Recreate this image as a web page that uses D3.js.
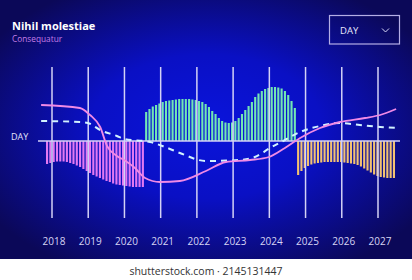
<!DOCTYPE html>
<html>
<head>
<meta charset="utf-8">
<script src="https://cdn.jsdelivr.net/npm/d3@7"></script>
<style>
  html, body { margin: 0; padding: 0; background: #fff; }
  svg { display: block; }
</style>
</head>
<body>
<div id="chart"></div>
<script>
var years = [2018, 2019, 2020, 2021, 2022, 2023, 2024, 2025, 2026, 2027];

// bar heights, one value per stripe
var pinkBars = [-23, -22, -21, -20.5, -20.5, -20.5, -21, -22, -23, -24.5,
    -26, -28, -30, -32, -34, -35.5, -37, -38.5, -40, -41,
    -42.5, -43.5, -44, -44.5, -45, -45.5, -46, -46, -46, -46];
var greenBars = [29, 32, 34.5, 36, 37.5, 39, 40, 40.5, 41, 41.5,
    42, 42, 42, 42, 41.5, 41, 40, 39, 37, 34,
    30, 27, 23, 20, 18.5, 18, 18.5, 20, 23, 27,
    31, 35, 39, 44, 47.5, 50, 52, 53, 54, 54,
    53.5, 52.5, 50, 46, 40, 33];
var orangeBars = [-34, -30, -27, -25, -23.5, -22.5, -22, -21.5, -21, -21,
    -21, -21, -21, -21, -21.5, -22, -22.5, -23, -24, -25.5,
    -27.5, -29.5, -31.5, -33.5, -35, -36, -36.5, -37, -37, -37];

// pink solid line [year, value]
var pinkLine = [[2017.70, 36], [2018.77, 33], [2019.05, 26], [2019.33, 14], [2019.52, -5],
    [2019.79, -15], [2019.99, -19], [2020.29, -27], [2020.57, -37], [2020.98, -41],
    [2021.53, -40], [2022.25, -30], [2022.80, -21], [2023.47, -19], [2023.99, -16],
    [2024.43, -7], [2024.85, 3], [2025.40, 13], [2025.95, 19], [2026.64, 23],
    [2027.06, 26], [2027.50, 32]];

// dashed line [year, value]
var dashLine = [[2017.70, 20], [2018.77, 19], [2018.99, 18], [2019.33, 11], [2019.79, 5],
    [2019.99, 2], [2020.71, -1], [2021.12, -6], [2021.53, -12], [2022.25, -20],
    [2023.19, -19], [2023.60, -16], [2024.02, -7], [2024.43, 1], [2024.85, 9],
    [2025.40, 15], [2025.95, 18], [2026.50, 16], [2027.06, 14], [2027.55, 13]];

var W = 412, H = 280;

var svg = d3.select("#chart").append("svg")
    .attr("width", W)
    .attr("height", H);

var defs = svg.append("defs");
var grad = defs.append("radialGradient")
    .attr("id", "bg")
    .attr("cx", "0.5").attr("cy", "0.5").attr("r", "0.62")
    .attr("fx", "0.5").attr("fy", "0.48");
grad.append("stop").attr("offset", "0%").attr("stop-color", "#0a14dc");
grad.append("stop").attr("offset", "45%").attr("stop-color", "#0a10c4");
grad.append("stop").attr("offset", "100%").attr("stop-color", "#0b0858");

svg.append("rect")
    .attr("width", W).attr("height", 259)
    .attr("fill", "url(#bg)");

let x = d3.scaleLinear().domain([2018, 2027]).range([52, 378]);
let y = d3.scaleLinear().domain([-60, 80]).range([201, 61]);

// stripes
let allBars = [];
pinkBars.forEach(v => allBars.push({v: v, c: "#e278f2"}));
greenBars.forEach(v => allBars.push({v: v, c: "#72e6b4"}));
orangeBars.forEach(v => allBars.push({v: v, c: "#f2c272"}));

let xb = d3.scaleBand()
    .domain(d3.range(allBars.length))
    .range([46, 395])
    .paddingInner(0.36)
    .paddingOuter(0);

svg.append("g").selectAll("rect")
    .data(allBars)
    .join("rect")
    .attr("x", (d, i) => xb(i))
    .attr("width", xb.bandwidth())
    .attr("y", d => y(Math.max(0, d.v)))
    .attr("height", d => Math.abs(y(d.v) - y(0)))
    .attr("fill", d => d.c);

// vertical grid lines
svg.append("g").selectAll("line")
    .data(years)
    .join("line")
    .attr("x1", d => x(d)).attr("x2", d => x(d))
    .attr("y1", 67).attr("y2", 218)
    .attr("stroke", "#d4d2f6")
    .attr("stroke-width", 1.5);

// baseline
svg.append("line")
    .attr("x1", 38).attr("x2", 400)
    .attr("y1", y(0)).attr("y2", y(0))
    .attr("stroke", "#d4d2f6")
    .attr("stroke-width", 1.5);

let line = d3.line()
    .x(d => x(d[0]))
    .y(d => y(d[1]))
    .curve(d3.curveMonotoneX);

svg.append("path")
    .datum(dashLine)
    .attr("d", line)
    .attr("fill", "none")
    .attr("stroke", "#d2f2ff")
    .attr("stroke-width", 2)
    .attr("stroke-dasharray", "6,5");

svg.append("path")
    .datum(pinkLine)
    .attr("d", line)
    .attr("fill", "none")
    .attr("stroke", "#f08ae6")
    .attr("stroke-width", 1.8);

// year labels
svg.append("g").selectAll("text")
    .data(years)
    .join("text")
    .attr("x", d => x(d) + 2)
    .attr("y", 245)
    .attr("text-anchor", "middle")
    .attr("font-family", "Open Sans")
    .attr("font-size", "10px")
    .attr("fill", "#d6d4f4")
    .text(d => d);

svg.append("text")
    .attr("x", 11).attr("y", 139.5)
    .attr("font-family", "Open Sans")
    .attr("font-size", "9px")
    .attr("fill", "#e4e4fa")
    .text("DAY");

// title block
svg.append("text")
    .attr("x", 12).attr("y", 29.5)
    .attr("font-family", "Open Sans")
    .attr("font-weight", "bold")
    .attr("font-size", "11px")
    .attr("fill", "#ffffff")
    .text("Nihil molestiae");

svg.append("text")
    .attr("x", 12).attr("y", 42)
    .attr("font-family", "Open Sans")
    .attr("font-size", "8.3px")
    .attr("fill", "#c57ee6")
    .text("Consequatur");

// dropdown
svg.append("rect")
    .attr("x", 329.5).attr("y", 15.5)
    .attr("width", 70).attr("height", 28.5)
    .attr("fill", "none")
    .attr("stroke", "#b4aee6")
    .attr("stroke-width", 1.2);

svg.append("text")
    .attr("x", 340).attr("y", 33.5)
    .attr("font-family", "Open Sans")
    .attr("font-size", "9.5px")
    .attr("fill", "#e8e8fc")
    .text("DAY");

svg.append("path")
    .attr("d", "M382,28.5L385.5,32L389,28.5")
    .attr("fill", "none")
    .attr("stroke", "#d8d8f8")
    .attr("stroke-width", 1);

// bottom strip
svg.append("text")
    .attr("x", 206).attr("y", 274.5)
    .attr("text-anchor", "middle")
    .attr("font-family", "Open Sans")
    .attr("font-size", "10.5px")
    .attr("fill", "#333")
    .text("shutterstock.com \u00b7 2145131447");
</script>
</body>
</html>
